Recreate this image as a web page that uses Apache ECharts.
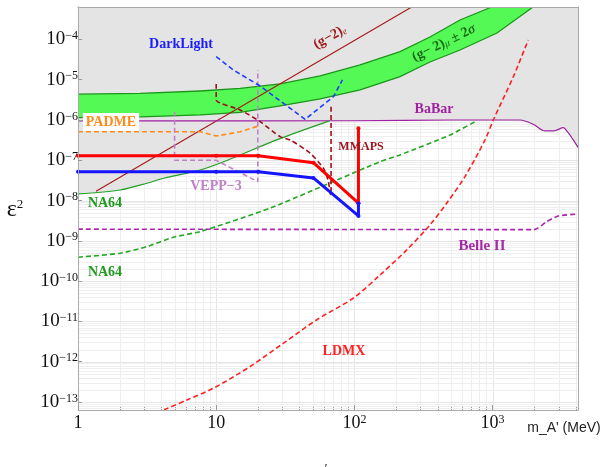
<!DOCTYPE html>
<html>
<head>
<meta charset="utf-8">
<script src="https://cdn.jsdelivr.net/npm/echarts@6/dist/echarts.min.js"></script>
<style>
  html, body { margin: 0; padding: 0; background: #fff; }
  #chart { width: 608px; height: 467px; }
</style>
</head>
<body>
<div id="chart"></div>
<script>
// axis ranges: dark photon mass (MeV) vs epsilon^2
const xMin = 1
const xMax = 4150
const yMin = 6.3e-14
const yMax = 6.4e-4

const xDecades = [1, 10, 100, 1000]
const yDecades = [1e-13, 1e-12, 1e-11, 1e-10, 1e-9, 1e-8, 1e-7, 1e-6, 1e-5, 1e-4]

// (g-2)_mu +- 2 sigma band
const gm2MuUpper = [[1, 4.37e-6], [2.82, 4.56e-6], [7.66, 5.26e-6], [14.9, 6.08e-6], [29, 7.85e-6], [56.5, 1.24e-5],
  [110, 2.33e-5], [214, 4.98e-5], [352, 1.15e-4], [581, 3.05e-4], [985, 6.4e-4]]
const gm2MuLower = [[1, 1.15e-6], [2.82, 1.19e-6], [7.66, 1.34e-6], [14.9, 1.54e-6], [29, 2.24e-6], [56.5, 3.33e-6],
  [110, 5.57e-6], [214, 1.19e-5], [352, 2.76e-5], [581, 5.48e-5], [1076, 1.45e-4], [1963, 6.4e-4]]

const gm2e = [[1.35, 1.7e-8], [260, 6.4e-4]]
const darkLight = [[10, 3.74e-5], [13.3, 1.75e-5], [20.8, 7.0e-6], [44, 1.04e-6], [70.5, 3.8e-6], [81.9, 9.9e-6]]
const babar = [[1, 9.5e-7], [100, 9.6e-7], [500, 1.0e-6], [1580, 1.0e-6], [1968, 7.85e-7], [2393, 5.35e-7],
  [2827, 5.45e-7], [3245, 6.45e-7], [3524, 4.85e-7], [3834, 3.2e-7], [4150, 2.1e-7]]
const padme = [[1, 5.1e-7], [7.7, 5.1e-7], [10, 4.0e-7], [14.9, 5.1e-7], [20.2, 7.1e-7]]
const vepp3 = [[5, 1.6e-6], [5, 1e-7], [10, 1e-7], [20, 2.95e-8], [20, 1.75e-5]]
const na64Now = [[1, 1.46e-8], [2.02, 1.83e-8], [3.15, 2.69e-8], [4.16, 3.58e-8], [7.66, 5.75e-8], [12.2, 1.02e-7],
  [28, 3.3e-7], [66, 9.5e-7]]
const na64Future = [[1, 3.92e-10], [2.02, 4.92e-10], [3.15, 7.18e-10], [4.91, 1.23e-9], [7.66, 1.7e-9], [24.6, 6.5e-9],
  [153, 9.2e-8], [214, 1.36e-7], [492, 4.26e-7], [746, 9.1e-7]]
const belle2 = [[1, 1.95e-9], [2000, 1.9e-9], [2460, 3.0e-9], [2985, 4.15e-9], [4150, 4.6e-9]]
const ldmx = [[4.2, 6.4e-14], [6.14, 1.12e-13], [9.56, 2.19e-13], [17.6, 7.59e-13], [30.7, 2.88e-12], [53.5, 1.1e-11],
  [98.4, 3.8e-11], [153, 1.41e-10], [239, 5.94e-10], [352, 2.48e-9], [465, 8.57e-9], [631, 3.93e-8], [881, 3.2e-7],
  [1012, 1.0e-6], [1413, 1.19e-5], [1811, 9.7e-5]]
const redReach = [[1, 1.3e-7], [10, 1.3e-7], [20.2, 1.3e-7], [50.5, 8.7e-8], [107, 8.6e-9], [107, 6.2e-7]]
const blueReach = [[1, 5.2e-8], [10, 5.2e-8], [20.2, 5.2e-8], [50.5, 3.65e-8], [107, 4.15e-9], [107, 8.6e-9]]
const mmaps = [[10, 7.85e-6], [10, 3.15e-6], [14.9, 1.78e-6], [20.8, 9.1e-7], [29, 3.87e-7], [34.3, 3.2e-7],
  [47.9, 1.5e-7], [59.7, 6.34e-8], [64.9, 2.95e-8], [66.7, 1.52e-8], [67.8, 1.38e-8], [67.8, 2.15e-6]]

const serif = '"Liberation Serif", "DejaVu Serif", serif'

// minor grid positions (2..9 per decade)
const xMinor = []
xDecades.forEach(d => { for (let k = 2; k <= 9; k++) if (k * d < xMax) xMinor.push(k * d) })
const yMinor = []
;[1e-14].concat(yDecades).forEach(d => { for (let k = 2; k <= 9; k++) if (k * d > yMin && k * d < yMax) yMinor.push(k * d) })

function pts(api, arr) {
  return arr.map(p => api.coord(p))
}

function renderGrid(params, api) {
  const children = []
  const add = (a, b, color) => children.push({
    type: 'line',
    shape: { x1: a[0], y1: a[1], x2: b[0], y2: b[1] },
    style: { stroke: color, lineWidth: 1 }
  })
  xMinor.forEach(v => {
    const a = api.coord([v, yMin]); const b = api.coord([v, yMax])
    const x = Math.round(a[0]) + 0.5
    add([x, a[1]], [x, b[1]], '#eeeeee')
    add([x, a[1]], [x, a[1] - 3], '#999')
  })
  xDecades.forEach(v => {
    const a = api.coord([v, yMin]); const b = api.coord([v, yMax])
    const x = Math.round(a[0]) + 0.5
    add([x, a[1]], [x, b[1]], '#e6e6e6')
  })
  yMinor.forEach(v => {
    const a = api.coord([xMin, v]); const b = api.coord([xMax, v])
    const y = Math.round(a[1]) + 0.5
    add([a[0], y], [b[0], y], '#eeeeee')
  })
  yDecades.forEach(v => {
    const a = api.coord([xMin, v]); const b = api.coord([xMax, v])
    const y = Math.round(a[1]) + 0.5
    add([a[0], y], [b[0], y], '#e6e6e6')
  })
  return { type: 'group', children }
}

function renderExcluded(params, api) {
  const edge = na64Now.concat(babar.filter(p => p[0] > na64Now[na64Now.length - 1][0]))
  const poly = pts(api, edge.concat([[xMax, yMax], [xMin, yMax]]))
  return { type: 'polygon', shape: { points: poly }, style: { fill: '#e4e4e4' } }
}

function renderBand(params, api) {
  const lo = pts(api, gm2MuLower)
  const hi = pts(api, gm2MuUpper)
  return {
    type: 'group',
    children: [
      { type: 'polygon', shape: { points: lo.concat(hi.slice().reverse()) }, style: { fill: '#55f955' } },
      { type: 'polyline', shape: { points: lo }, style: { stroke: '#1a961a', lineWidth: 1.3, fill: null } },
      { type: 'polyline', shape: { points: hi }, style: { stroke: '#1a961a', lineWidth: 1.3, fill: null } }
    ]
  }
}

function lineSeries(name, data, color, width, dashed, extra) {
  return Object.assign({
    name: name,
    type: 'line',
    data: data,
    showSymbol: false,
    clip: true,
    z: 4,
    lineStyle: { color: color, width: width, type: dashed ? [5, 3] : 'solid' },
    itemStyle: { color: color },
    silent: true,
    animation: false
  }, extra || {})
}

function supLabel(v) {
  const e = Math.round(Math.log10(v))
  return '{b|10}{s|' + (e < 0 ? '\u2212' + (-e) : e) + '}'
}

function tickRich(size) {
  return {
    b: { fontFamily: serif, fontSize: size, color: '#111', verticalAlign: 'bottom' },
    s: { fontFamily: serif, fontSize: 12, color: '#111', verticalAlign: 'top' }
  }
}

function tag(text, x, y, color, size, extra) {
  return Object.assign({
    type: 'text',
    x: x,
    y: y,
    z: 100,
    silent: true,
    style: {
      text: text,
      fill: color,
      font: 'bold ' + (size || 14) + 'px ' + serif,
      align: 'center',
      verticalAlign: 'middle'
    }
  }, extra || {})
}

const chart = echarts.init(document.getElementById('chart'))

chart.setOption({
  animation: false,
  backgroundColor: '#fff',
  grid: { left: 78, right: 30, top: 7, bottom: 57 },
  xAxis: [{
    type: 'log',
    min: xMin,
    max: xMax,
    z: 10,
    axisLine: { lineStyle: { color: '#aaa' } },
    axisTick: { inside: true, length: 5, lineStyle: { color: '#999' }, customValues: xDecades },
    splitLine: { show: false },
    axisLabel: {
      margin: 4,
      customValues: xDecades,
      formatter: v => (v < 5 ? '{b|1}' : v < 50 ? '{b|10}' : supLabel(v)),
      rich: tickRich(18)
    }
  }, {
    type: 'log', position: 'top', min: xMin, max: xMax, z: 10,
    axisLine: { show: true, lineStyle: { color: '#aaa' } },
    axisTick: { show: false }, axisLabel: { show: false }, splitLine: { show: false }
  }],
  yAxis: [{
    type: 'log',
    min: yMin,
    max: yMax,
    z: 10,
    axisLine: { show: true, lineStyle: { color: '#aaa' } },
    axisTick: { inside: true, length: 4, lineStyle: { color: '#999' }, customValues: yDecades },
    splitLine: { show: false },
    axisLabel: {
      margin: 0,
      customValues: yDecades,
      formatter: supLabel,
      rich: tickRich(19)
    }
  }, {
    type: 'log', position: 'right', min: yMin, max: yMax, z: 10,
    axisLine: { show: true, lineStyle: { color: '#aaa' } },
    axisTick: { show: false }, axisLabel: { show: false }, splitLine: { show: false }
  }],
  series: [
    { type: 'custom', data: [[xMin, yMin]], renderItem: renderGrid, z: 1, silent: true },
    { type: 'custom', data: [[xMin, yMin]], renderItem: renderExcluded, z: 2, clip: true, silent: true },
    { type: 'custom', data: [[xMin, yMin]], renderItem: renderBand, z: 3, clip: true, silent: true },
    lineSeries('(g-2)e', gm2e, '#a81818', 1.1, false),
    lineSeries('BaBar', babar, '#a020a0', 1.2, false, { smooth: 0.3 }),
    lineSeries('NA64', na64Now, '#22a022', 1.2, false, { smooth: 0.3 }),
    lineSeries('NA64 future', na64Future, '#22a822', 1.6, true, { smooth: 0.2 }),
    lineSeries('Belle II', belle2, '#a828a8', 1.6, true, { smooth: 0.2 }),
    lineSeries('PADME', padme, '#ff8c1a', 1.6, true),
    lineSeries('VEPP-3', vepp3, '#c080c8', 1.6, true),
    lineSeries('DarkLight', darkLight, '#1f3cff', 1.6, true),
    lineSeries('MMAPS', mmaps, '#a0101a', 1.6, true, { smooth: 0.2 }),
    lineSeries('LDMX', ldmx, '#ff2020', 1.6, true, { smooth: 0.3 }),
    lineSeries('reach 1', redReach, '#ff0000', 3, false, { showSymbol: true, symbol: 'circle', symbolSize: 4 }),
    lineSeries('reach 2', blueReach, '#1414ff', 3, false, { showSymbol: true, symbol: 'circle', symbolSize: 4 })
  ],
  graphic: [
    tag('DarkLight', 181, 44, '#1a1aff'),
    tag('PADME', 111, 122, '#ff8c1a', 14, {
      style: {
        text: 'PADME', fill: '#ff8c1a', font: 'bold 14px ' + serif, align: 'center', verticalAlign: 'middle',
        backgroundColor: '#fff', padding: [2, 3]
      }
    }),
    tag('BaBar', 434, 109, '#a020a0'),
    tag('NA64', 105, 203, '#1f9a1f'),
    tag('NA64', 105, 272, '#1f9a1f'),
    tag('VEPP\u22123', 216, 186, '#c080c8'),
    tag('MMAPS', 361, 147, '#a0141e', 12),
    tag('Belle II', 482, 246, '#a828a8', 15),
    tag('LDMX', 344, 351, '#ff2020'),
    {
      type: 'text', x: 330, y: 37, z: 100, rotation: 0.5, silent: true,
      style: {
        text: '{a|(g\u22122)}{b|e}', align: 'center', verticalAlign: 'middle',
        rich: {
          a: { fontFamily: serif, fontWeight: 'bold', fontSize: 14, fill: '#a01818', color: '#a01818', verticalAlign: 'bottom' },
          b: { fontFamily: serif, fontStyle: 'italic', fontSize: 9, fill: '#a01818', color: '#a01818', verticalAlign: 'bottom' }
        }
      }
    },
    {
      type: 'text', x: 444, y: 43, z: 100, rotation: 0.45, silent: true,
      style: {
        text: '{a|(g\u2212 2)}{b|\u03bc}{a| \u00b1 2}{c|\u03c3}', align: 'center', verticalAlign: 'middle',
        rich: {
          a: { fontFamily: serif, fontWeight: 'bold', fontSize: 14, fill: '#1a6a1a', color: '#1a6a1a', verticalAlign: 'bottom' },
          b: { fontFamily: serif, fontStyle: 'italic', fontSize: 10, fill: '#1a6a1a', color: '#1a6a1a', verticalAlign: 'bottom' },
          c: { fontFamily: serif, fontStyle: 'italic', fontWeight: 'bold', fontSize: 14, fill: '#1a6a1a', color: '#1a6a1a', verticalAlign: 'bottom' }
        }
      }
    },
    {
      type: 'text', x: 15, y: 210, z: 100, silent: true,
      style: {
        text: '{e|\u03b5}{s|2}', align: 'center', verticalAlign: 'middle',
        rich: {
          e: { fontFamily: serif, fontSize: 24, fill: '#111', color: '#111', verticalAlign: 'bottom' },
          s: { fontFamily: serif, fontSize: 13, fill: '#111', color: '#111', verticalAlign: 'top' }
        }
      }
    },
    {
      type: 'text', x: 564, y: 428, z: 100, silent: true,
      style: { text: "m_A' (MeV)", fill: '#222', font: '14px "Liberation Sans", Arial, sans-serif', align: 'center', verticalAlign: 'middle' }
    },
    {
      type: 'text', x: 326, y: 470, z: 100, silent: true,
      style: { text: '\u2032', fill: '#333', font: '14px ' + serif, align: 'center', verticalAlign: 'middle' }
    }
  ]
})
</script>
</body>
</html>
